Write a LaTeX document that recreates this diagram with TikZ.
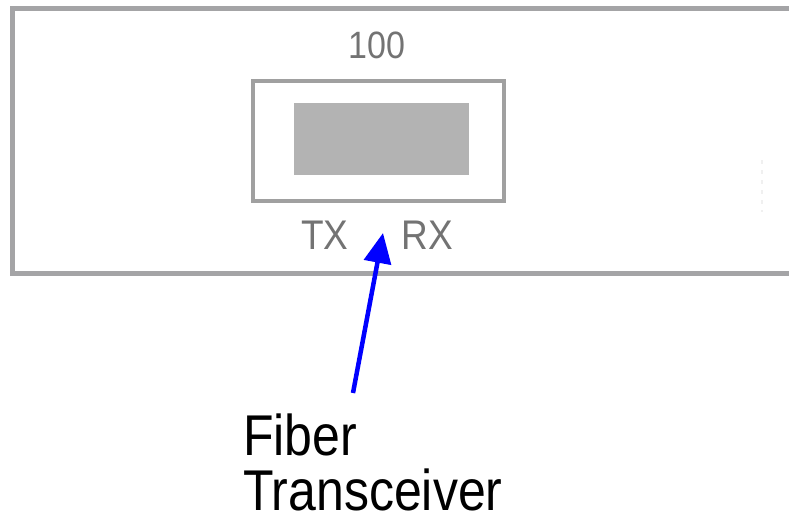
\documentclass[tikz,border=0pt]{standalone}
\usepackage{fontspec}
\setmainfont{Liberation Sans}
\usetikzlibrary{arrows.meta,positioning}
\definecolor{panelgray}{RGB}{164,164,166}
\definecolor{portgray}{RGB}{160,160,160}
\definecolor{slotgray}{RGB}{179,179,179}
\definecolor{labelgray}{RGB}{115,115,115}
\definecolor{fiberblue}{RGB}{0,0,255}

\begin{document}
\begin{tikzpicture}[
    x=1pt, y=-1pt,
    panel/.style={draw=panelgray, line width=5pt},
    portbox/.style={rectangle, draw=portgray, line width=4pt, minimum width=251pt, minimum height=119.5pt, inner sep=0pt},
    slot/.style={rectangle, fill=slotgray, minimum width=175pt, minimum height=72pt, inner sep=0pt},
    paneltext/.style={text=labelgray, inner sep=0pt, yscale=1.12, transform shape},
    callout/.style={align=left, inner sep=0pt, font=\fontsize{50}{47.8}\selectfont, yscale=1.15, transform shape},
    arrow/.style={-{Triangle[length=30pt,width=27pt]}, draw=fiberblue, line width=4.5pt}
]
\useasboundingbox (0,0) rectangle (789,523);

% Panel
\draw[panel] (789,8.5) -| (12,273.5) -- (789,273.5);
\draw[gray!12, line width=2pt, dash pattern=on 4pt off 6pt] (762,160) -- (762,212);

% Port
\node[portbox] (port) at (378,140.75) {};
\node[slot] (slot) at (381.5,139) {};

% Port labels
\node[paneltext, font=\fontsize{34}{40}\selectfont] (speed) at (377,45) {100};
\node[paneltext, font=\fontsize{37}{40}\selectfont] (tx) at (325,235) {TX};
\node[paneltext, font=\fontsize{37}{40}\selectfont] (rx) at (427,235) {RX};

% Callout
\node[callout, anchor=base west] (fiber) at (243,510) {Fiber\\Transceiver};
\coordinate (tail) at (353,393);
\coordinate (tip) at (383,233);
\draw[arrow] (tail) -- (tip);

\end{tikzpicture}
\end{document}
